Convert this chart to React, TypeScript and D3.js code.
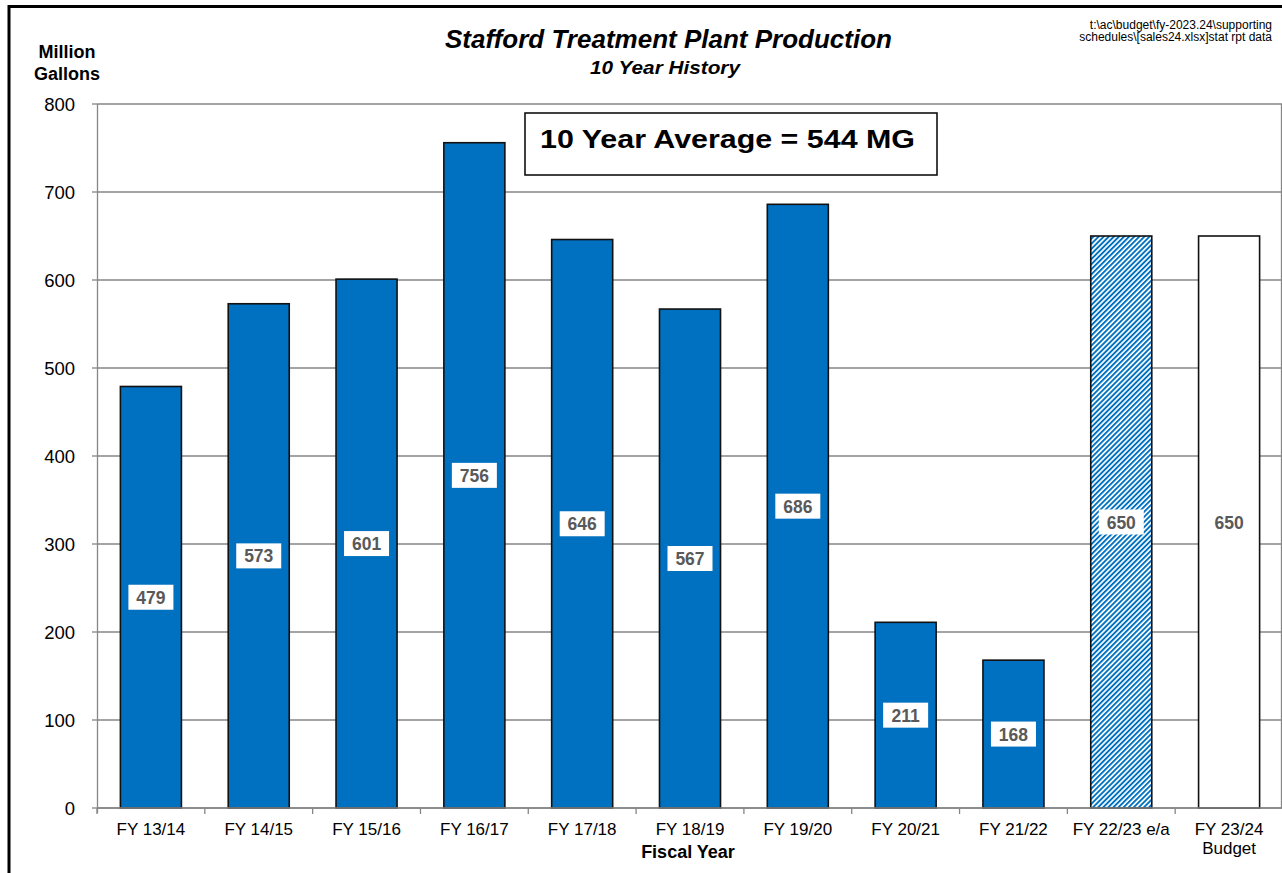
import React from "react";
import * as d3 from "d3";

const categories = ["FY 13/14", "FY 14/15", "FY 15/16", "FY 16/17", "FY 17/18", "FY 18/19", "FY 19/20", "FY 20/21", "FY 21/22", "FY 22/23 e/a", "FY 23/24\nBudget"];
const values = [479, 573, 601, 756, 646, 567, 686, 211, 168, 650, 650];
const kinds = ["actual", "actual", "actual", "actual", "actual", "actual", "actual", "actual", "actual", "estimate", "budget"];
const yTicks = [0, 100, 200, 300, 400, 500, 600, 700, 800];

const W = 1282, H = 873;
const left = 97, right = 1283, top = 104, bottom = 808;
const BLUE = "#0070C0";
const GRID = "#868686";
const ARIAL = "Arial, 'Liberation Sans', sans-serif";

export default function App() {
  const y = d3.scaleLinear().domain([0, 800]).range([bottom, top]);
  const pad = 0.434;
  const x = d3.scaleBand<string>().domain(categories).range([left, right]).paddingInner(pad).paddingOuter(pad / 2);
  const step = x.step();
  const boundaries = d3.range(categories.length + 1).map((i) => left + i * step);

  return (
    <svg width={W} height={H} style={{ position: "absolute", left: 0, top: 0, background: "#fff" }} fontFamily={ARIAL}>
      <defs>
        <pattern id="hatch" patternUnits="userSpaceOnUse" width="3.6" height="3.6" patternTransform="rotate(-45)">
          <rect width="3.6" height="3.6" fill="#ffffff" />
          <rect width="3.6" height="1.9" fill={BLUE} />
        </pattern>
      </defs>
      <rect x={0} y={0} width={W} height={H} fill="#fff" />
      {/* outer frame */}
      <rect x={9} y={6.5} width={1290} height={900} fill="none" stroke="#000" strokeWidth={3} />

      {/* gridlines */}
      {yTicks.map((t) => (
        <line key={t} x1={left} x2={right} y1={y(t)} y2={y(t)} stroke={GRID} strokeWidth={1.3} />
      ))}
      {/* plot right edge */}
      <line x1={1281.5} x2={1281.5} y1={top} y2={bottom} stroke={GRID} strokeWidth={1.3} />
      {/* y axis */}
      <line x1={left + 0.5} x2={left + 0.5} y1={top} y2={bottom + 5} stroke={GRID} strokeWidth={1.3} />
      {yTicks.map((t) => (
        <g key={"yt" + t}>
          <line x1={left - 5} x2={left} y1={y(t)} y2={y(t)} stroke={GRID} strokeWidth={1.3} />
          <text x={75} y={y(t) + 6.5} textAnchor="end" fontSize={18.5} fill="#000">{t}</text>
        </g>
      ))}
      {/* x tick marks */}
      {boundaries.map((b, i) => (
        <line key={"xt" + i} x1={b} x2={b} y1={bottom} y2={bottom + 6} stroke={GRID} strokeWidth={1.3} />
      ))}

      {/* bars */}
      {categories.map((c, i) => {
        const v = values[i];
        const k = kinds[i];
        const fill = k === "actual" ? BLUE : k === "estimate" ? "url(#hatch)" : "#fff";
        return (
          <rect key={"b" + i} x={x(c)} y={y(v)} width={x.bandwidth()} height={bottom - y(v)} fill={fill} stroke="#111" strokeWidth={1.6} />
        );
      })}
      {/* bottom axis line over bars */}
      <line x1={left} x2={right} y1={bottom} y2={bottom} stroke={GRID} strokeWidth={1.3} />

      {/* value labels */}
      {categories.map((c, i) => {
        const v = values[i];
        const cx = (x(c) as number) + x.bandwidth() / 2;
        const cy = y(v / 2);
        const boxed = kinds[i] !== "budget";
        return (
          <g key={"l" + i}>
            {boxed && <rect x={cx - 22.5} y={cy - 12.5} width={45} height={25} fill="#fff" />}
            <text x={cx} y={cy + 6.5} textAnchor="middle" fontSize={17.5} fontWeight="bold" fill="#595959">{v}</text>
          </g>
        );
      })}

      {/* x labels */}
      {categories.map((c, i) => {
        const cx = (x(c) as number) + x.bandwidth() / 2;
        const lines = c.split("\n");
        return (
          <text key={"xl" + i} x={cx} y={835} textAnchor="middle" fontSize={17} fill="#000">
            {lines.map((ln, j) => (
              <tspan key={j} x={cx} dy={j === 0 ? 0 : 19}>{ln}</tspan>
            ))}
          </text>
        );
      })}

      {/* axis titles */}
      <text x={688} y={858} textAnchor="middle" fontSize={18} fontWeight="bold">Fiscal Year</text>
      <text x={67} y={58} textAnchor="middle" fontSize={18} fontWeight="bold">Million</text>
      <text x={67} y={80} textAnchor="middle" fontSize={18} fontWeight="bold">Gallons</text>

      {/* title */}
      <text x={445} y={48} fontSize={25} fontWeight="bold" fontStyle="italic" textLength={447} lengthAdjust="spacingAndGlyphs">Stafford Treatment Plant Production</text>
      <text x={590} y={74} fontSize={19} fontWeight="bold" fontStyle="italic" textLength={150} lengthAdjust="spacingAndGlyphs">10 Year History</text>

      {/* file path note */}
      <text x={1272} y={29} textAnchor="end" fontSize={12} fill="#000">t:\ac\budget\fy-2023.24\supporting</text>
      <text x={1272} y={41} textAnchor="end" fontSize={12} fill="#000">schedules\[sales24.xlsx]stat rpt data</text>

      {/* average box */}
      <rect x={525} y={113} width={412} height={62} fill="#fff" stroke="#111" strokeWidth={1.6} />
      <text x={540} y={148} fontSize={26} fontWeight="bold" textLength={375} lengthAdjust="spacingAndGlyphs">10 Year Average = 544 MG</text>
    </svg>
  );
}
